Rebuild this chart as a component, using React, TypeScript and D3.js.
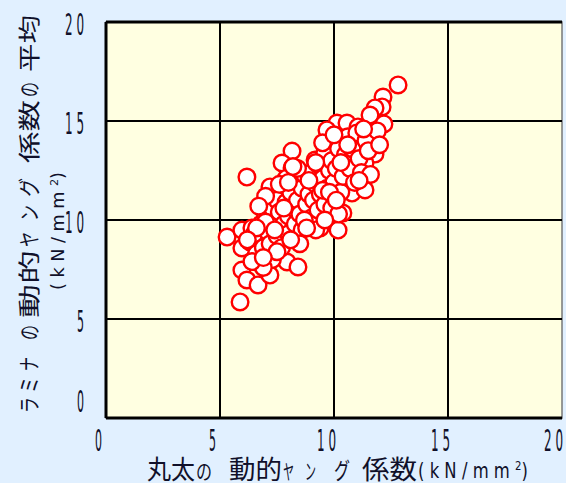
import React from 'react'
import * as d3 from 'd3'

// log dynamic modulus (x) vs mean lamina dynamic modulus (y), kN/mm2
const logE = [
  12.81, 12.15, 12.11, 11.80, 11.58, 12.19, 10.13, 10.57, 9.69, 11.05,
  10.92, 11.71, 11.80, 9.74, 9.61, 10.35, 8.16, 7.72, 8.16, 9.17,
  10.79, 11.36, 6.18, 7.19, 7.98, 9.04, 10.48, 11.27, 9.74, 6.97,
  8.07, 8.86, 9.96, 10.79, 11.36, 10.39, 9.39, 10.18, 7.76, 8.38,
  5.31, 5.96, 6.40, 6.97, 7.72, 5.96, 7.32, 6.62, 7.94, 8.42,
  5.96, 6.18, 6.67, 7.19, 5.88,
  6.3, 6.5, 6.6, 6.8, 6.9, 7.0, 7.1, 7.2, 7.3, 7.4,
  7.5, 7.5, 7.6, 7.7, 7.8, 7.9, 8.0, 8.0, 8.1, 8.2,
  8.3, 8.3, 8.4, 8.5, 8.6, 8.6, 8.7, 8.8, 8.9, 9.0,
  9.0, 9.1, 9.2, 9.3, 9.3, 9.4, 9.5, 9.6, 9.6, 9.7,
  9.8, 9.9, 9.9, 10.0, 10.1, 10.2, 10.3, 10.4, 10.5, 10.6,
  10.7, 10.8, 10.9, 11.0, 11.1, 11.2, 11.4, 11.5, 11.6, 11.9,
  12.0, 10.2, 9.2, 8.5, 7.3, 6.9, 6.4, 7.9, 7.0, 6.7,
  7.6, 8.0, 8.4, 8.9, 9.2, 9.5, 8.7, 8.1, 7.5, 7.0,
  6.6, 6.2, 9.8, 10.1, 10.3, 10.6, 9.5, 10.0, 11.1, 11.3,
  8.2, 7.8, 8.8, 9.6, 7.4, 6.9,
]
const laminaE = [
  16.82, 16.21, 15.71, 15.66, 15.30, 14.85, 14.90, 14.90, 14.55, 14.70,
  13.94, 13.94, 13.33, 13.69, 13.28, 13.03, 13.48, 12.88, 12.63, 13.03,
  12.93, 12.88, 12.17, 11.67, 11.77, 11.87, 12.17, 11.87, 11.77, 10.86,
  11.11, 11.01, 11.11, 11.36, 11.52, 10.35, 9.60, 9.49, 10.10, 9.65,
  9.14, 9.49, 9.60, 9.09, 9.60, 8.59, 8.23, 7.88, 7.88, 7.63,
  7.47, 6.97, 6.72, 7.22, 5.86,
  8.9, 9.3, 8.3, 9.8, 8.6, 10.2, 9.4, 8.8, 10.6, 9.9,
  9.2, 11.0, 10.4, 8.6, 9.8, 10.9, 10.2, 9.3, 11.4, 10.6,
  9.8, 12.0, 11.0, 10.3, 11.6, 9.5, 12.3, 10.8, 11.3, 10.1,
  12.4, 11.0, 11.8, 10.5, 12.8, 11.3, 12.1, 10.8, 13.4, 11.6,
  12.5, 10.6, 13.0, 11.9, 12.6, 13.6, 11.4, 12.2, 13.3, 14.2,
  12.6, 13.6, 11.9, 14.4, 13.1, 12.4, 14.0, 13.5, 12.3, 14.5,
  13.8, 10.3, 9.5, 8.8, 8.0, 7.6, 7.9, 12.1, 11.2, 10.7,
  11.8, 11.9, 12.6, 12.0, 12.9, 11.5, 10.0, 9.0, 8.4, 9.9,
  9.6, 9.0, 11.4, 11.0, 12.9, 13.8, 13.9, 14.3, 12.0, 14.6,
  12.7, 10.6, 9.6, 10.0, 9.5, 8.1,
]
const ticks = [0, 5, 10, 15, 20]

const W = 566, H = 483
const ink = '#10102a'
const jp = '"Noto Sans CJK JP", sans-serif'

// one squeezed text run
const Run = ({x, y, len, size, children, rot}: any) => (
  <text
    x={x} y={y}
    fontSize={size}
    fontFamily={jp}
    fill={ink}
    textLength={len}
    lengthAdjust="spacingAndGlyphs"
    transform={rot ? `rotate(-90 ${x} ${y})` : undefined}
  >{children}</text>
)

export default function App() {
  const x = d3.scaleLinear().domain([0, 20]).range([106, 562])
  const y = d3.scaleLinear().domain([0, 20]).range([418, 22])
  const pts = logE.map((v, i) => [v, laminaE[i]])

  // x title runs: [text, start, end, size]
  const xRuns: any[] = [
    ['丸太', 147, 195, 26], ['の', 196, 212, 21], ['動的', 229, 282, 26],
    ['ヤ', 283, 294, 21], ['ン', 305, 316, 22], ['グ', 334, 350, 23],
    ['係数', 362, 417, 26],
  ]
  // y title runs, measured upward: [text, bottom, top, size]
  const yRuns: any[] = [
    ['ラ', 413, 397, 22], ['ミ', 393, 377, 22], ['ナ', 371, 357, 22],
    ['の', 340, 325, 22], ['動的', 318, 250, 22], ['ヤ', 247, 232, 22],
    ['ン', 221, 205, 22], ['グ', 197, 178, 22], ['係数', 163, 100, 22],
    ['の', 97, 82, 22], ['平均', 72, 15, 22],
  ]

  return (
    <svg width={W} height={H} style={{position: 'absolute', left: 0, top: 0}}>
      <rect x={0} y={0} width={W} height={H} fill="#e1f0ff" />
      <rect x={x(0)} y={y(20)} width={x(20) - x(0)} height={y(0) - y(20)} fill="#ffffe1" stroke="#777" strokeWidth={1.5} />

      {ticks.slice(1, -1).map(t => (
        <g key={t}>
          <line x1={x(t)} x2={x(t)} y1={y(0)} y2={y(20)} stroke="#000" strokeWidth={2} />
          <line x1={x(0)} x2={x(20)} y1={y(t)} y2={y(t)} stroke="#000" strokeWidth={2} />
        </g>
      ))}
      <line x1={x(0)} x2={x(20)} y1={y(20)} y2={y(20)} stroke="#000" strokeWidth={3} />
      <line x1={x(0)} x2={x(20)} y1={y(0)} y2={y(0)} stroke="#000" strokeWidth={3} />
      <line x1={x(0)} x2={x(0)} y1={y(0)} y2={y(20)} stroke="#000" strokeWidth={3} />

      {pts.map((p, i) => (
        <circle key={i} cx={x(p[0])} cy={y(p[1])} r={8.3} fill="#fff" stroke="#ff0000" strokeWidth={2.4} />
      ))}

      {ticks.map(t => {
        const s = String(t).split('').join(' ')
        const len = t < 10 ? 7 : 19
        return (
          <g key={'t' + t} fontFamily="DejaVu Sans" fontSize={30} fill={ink}>
            <text x={Math.min(x(t) - 7.5 - len / 2, 544)} y={451} textLength={len} lengthAdjust="spacingAndGlyphs">{s}</text>
            <text x={84 - len} y={Math.min(y(t) + 13, y(0) - 6)} textLength={len} lengthAdjust="spacingAndGlyphs">{s}</text>
          </g>
        )
      })}

      {xRuns.map((r, i) => (
        <Run key={'x' + i} x={r[1]} y={479} len={r[2] - r[1]} size={r[3]}>{r[0]}</Run>
      ))}
      <text x={418} y={478} fontFamily="DejaVu Sans" fontSize={21} fill={ink} textLength={110} lengthAdjust="spacingAndGlyphs">
        ( k N / m m <tspan fontSize={13} dy={-8}>2</tspan><tspan dy={8}>)</tspan>
      </text>

      {yRuns.map((r, i) => (
        <Run key={'y' + i} x={37} y={r[1]} len={r[1] - r[2]} size={r[3]} rot>{r[0]}</Run>
      ))}
      <text x={64} y={290} fontFamily="DejaVu Sans" fontSize={17} fill={ink} textLength={118} lengthAdjust="spacingAndGlyphs" transform="rotate(-90 64 290)">
        ( k N / m m <tspan fontSize={11} dy={-6}>2</tspan><tspan dy={6}>)</tspan>
      </text>
    </svg>
  )
}
